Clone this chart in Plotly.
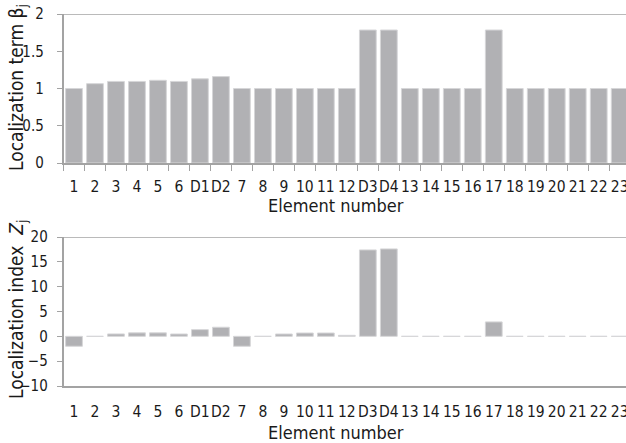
import plotly.graph_objects as go

categories = ["1", "2", "3", "4", "5", "6", "D1", "D2", "7", "8", "9", "10", "11", "12",
              "D3", "D4", "13", "14", "15", "16", "17", "18", "19", "20", "21", "22", "23"]
beta_values = [1.0, 1.065, 1.095, 1.095, 1.11, 1.095, 1.13, 1.16, 1.0, 1.0, 1.0, 1.0, 1.0, 1.0,
               1.785, 1.785, 1.0, 1.0, 1.0, 1.0, 1.785, 1.0, 1.0, 1.0, 1.0, 1.0, 1.0]
z_values = [-2.0, 0.0, 0.48, 0.7, 0.7, 0.47, 1.35, 1.83, -2.0, 0.0, 0.47, 0.67, 0.67, 0.2,
            17.4, 17.6, 0.0, 0.0, 0.0, 0.0, 2.9, 0.0, 0.0, 0.0, 0.0, 0.0, 0.0]
beta_ticks = [0, 0.5, 1, 1.5, 2]
beta_ticklabels = ["0", "0.5", "1", "1.5", "2"]
z_ticks = [-10, -5, 0, 5, 10, 15, 20]

FONT = "DejaVu Sans Condensed, Liberation Sans Narrow, Arial Narrow, Liberation Sans, Arial, sans-serif"
TXT = "#1a1a1a"
AX = "#a3a3a3"
BAR = "#b1b1b4"
BAR_EDGE = "#d6d6d8"

W, H = 626, 443
xl = 63.5 / W
top_dom = [(H - 163) / H, (H - 14) / H]
bot_dom = [(H - 386) / H, (H - 237) / H]
xrange_ = [-0.5, 26.3]

fig = go.Figure()
fig.add_trace(go.Bar(x=categories, y=beta_values, xaxis="x", yaxis="y",
                     marker=dict(color=BAR, line=dict(color=BAR_EDGE, width=1)),
                     showlegend=False))
fig.add_trace(go.Bar(x=categories, y=z_values, xaxis="x2", yaxis="y2",
                     marker=dict(color=BAR, line=dict(color=BAR_EDGE, width=1)),
                     showlegend=False))

tickfont = dict(family=FONT, size=15.5, color=TXT)
ytickfont = dict(family=FONT, size=15, color=TXT)

fig.update_layout(
    width=W, height=H,
    margin=dict(l=0, r=0, t=0, b=0, autoexpand=False),
    paper_bgcolor="white", plot_bgcolor="white",
    bargap=0.2,
    font=dict(family=FONT, color=TXT),
    xaxis=dict(domain=[xl, 1], anchor="y", type="category", categoryorder="array",
               categoryarray=categories, range=xrange_,
               tickmode="array", tickvals=categories, ticktext=categories, tickangle=0,
               showline=True, linecolor=AX, linewidth=1.5,
               ticks="outside", tickson="boundaries", ticklen=6, tickcolor=AX, tickwidth=1,
               tickfont=tickfont, ticklabelstandoff=9, showgrid=False),
    yaxis=dict(domain=top_dom, anchor="x", range=[0, 2], tickvals=beta_ticks,
               ticktext=beta_ticklabels,
               showline=True, linecolor=AX, linewidth=1.5,
               ticks="outside", ticklen=5, tickcolor=AX, tickfont=ytickfont,
               ticklabelstandoff=10, showgrid=False, zeroline=False),
    xaxis2=dict(domain=[xl, 1], anchor="y2", type="category", categoryorder="array",
                categoryarray=categories, range=xrange_,
                tickmode="array", tickvals=categories, ticktext=categories, tickangle=0,
                showline=True, linecolor=AX, linewidth=1.5,
                ticks="", tickfont=tickfont, ticklabelstandoff=11, showgrid=False),
    xaxis3=dict(domain=[xl, 1], anchor="free", overlaying="x2", type="category",
                categoryorder="array", categoryarray=categories, range=xrange_,
                tickmode="array", tickvals=categories,
                position=bot_dom[0] + (bot_dom[1] - bot_dom[0]) / 3,
                showline=True, linecolor=AX, linewidth=1.5,
                ticks="outside", tickson="boundaries", ticklen=6, tickcolor=AX,
                showticklabels=False, showgrid=False),
    yaxis2=dict(domain=bot_dom, anchor="x2", range=[-10, 20], tickvals=z_ticks,
                showline=True, linecolor=AX, linewidth=1.5,
                ticks="outside", ticklen=5, tickcolor=AX, tickfont=ytickfont,
                ticklabelstandoff=6, showgrid=False, zeroline=False),
    shapes=[
        dict(type="line", xref="x domain", yref="y", x0=0, x1=1, y0=2, y1=2,
             line=dict(color=AX, width=1.5)),
        dict(type="line", xref="x2 domain", yref="y2", x0=0, x1=1, y0=20, y1=20,
             line=dict(color=AX, width=1.5)),
    ],
    annotations=[
        dict(text="Localization term β<sub>j</sub>", xref="paper", yref="paper",
             x=17 / W, y=(H - 88) / H, textangle=-90, showarrow=False,
             font=dict(family=FONT, size=19, color=TXT), xanchor="center", yanchor="middle"),
        dict(text="Localization index  <i>Z</i><sub>j</sub>", xref="paper", yref="paper",
             x=17 / W, y=(H - 310) / H, textangle=-90, showarrow=False,
             font=dict(family=FONT, size=19, color=TXT), xanchor="center", yanchor="middle"),
        dict(text="Element number", xref="paper", yref="paper",
             x=336 / W, y=(H - 205) / H, showarrow=False,
             font=dict(family=FONT, size=18, color=TXT), xanchor="center", yanchor="middle"),
        dict(text="Element number", xref="paper", yref="paper",
             x=336 / W, y=(H - 432) / H, showarrow=False,
             font=dict(family=FONT, size=18, color=TXT), xanchor="center", yanchor="middle"),
    ],
)

fig.write_html("out.html", config={"displayModeBar": False},
               post_script="document.body.style.margin='0px';document.body.style.overflow='hidden';")
